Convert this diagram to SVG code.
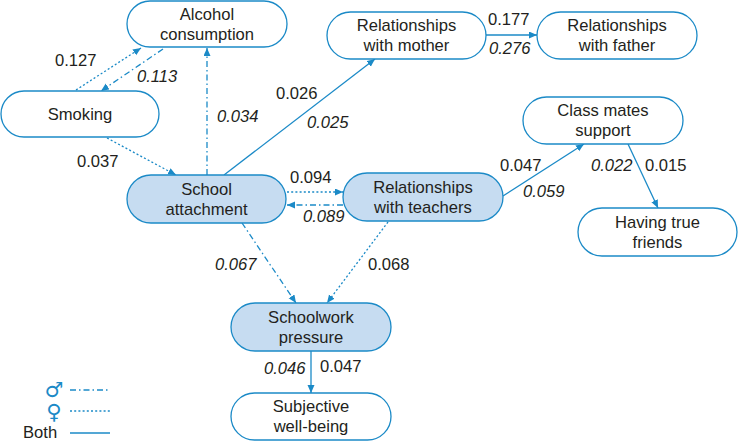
<svg xmlns="http://www.w3.org/2000/svg" width="738" height="442" viewBox="0 0 738 442">
<defs>
<marker id="ah" markerUnits="userSpaceOnUse" markerWidth="9" markerHeight="8" refX="8" refY="3.5" orient="auto">
<path d="M0,0 L8,3.5 L0,7 z" fill="#1b8ac7"/>
</marker>
<style>
.n{fill:#fff;stroke:#1b8ac7;stroke-width:1.3}
.s{fill:#c6dcf1;stroke:#1b8ac7;stroke-width:1.3}
text{font-family:"Liberation Sans",Arial,sans-serif;font-size:16.6px;fill:#231f20}
.c{text-anchor:middle}
.i{font-style:italic}
.e{fill:none;stroke:#1b8ac7;stroke-width:1.3;marker-end:url(#ah)}
.m{stroke-dasharray:6 3 1.5 3}
.f{stroke-dasharray:2 2.2}
.l{fill:none;stroke:#1b8ac7;stroke-width:1.3}
.g{font-family:"DejaVu Sans",sans-serif;font-size:21px;fill:#1b8ac7;text-anchor:middle}
</style>
</defs>
<g id="connectors">
<line class="e f" x1="76" y1="90" x2="141" y2="48"/>
<line class="e m" x1="163" y1="49" x2="101" y2="91"/>
<line class="e m" x1="207" y1="175" x2="207" y2="48"/>
<line class="e f" x1="107" y1="138" x2="176" y2="175"/>
<line class="e" x1="224" y1="175" x2="375" y2="59"/>
<line class="e" x1="486" y1="35" x2="537" y2="35"/>
<line class="e f" x1="287" y1="192" x2="343" y2="192"/>
<line class="e m" x1="343" y1="205" x2="287" y2="205"/>
<line class="e" x1="503" y1="196" x2="584" y2="144"/>
<line class="e" x1="628" y1="144" x2="658" y2="208"/>
<line class="e m" x1="242" y1="223" x2="296" y2="303"/>
<line class="e f" x1="388" y1="222" x2="327" y2="303"/>
<line class="e" x1="311" y1="351" x2="311" y2="393"/>
</g>
<g id="edge-labels">
<text x="55" y="66">0.127</text>
<text class="i" x="137" y="82">0.113</text>
<text class="i" x="217" y="122">0.034</text>
<text x="276" y="99">0.026</text>
<text class="i" x="307" y="128">0.025</text>
<text x="77" y="167">0.037</text>
<text x="290" y="183">0.094</text>
<text class="i" x="303" y="222">0.089</text>
<text x="488" y="25">0.177</text>
<text class="i" x="489" y="54">0.276</text>
<text x="500" y="171">0.047</text>
<text class="i" x="523" y="197">0.059</text>
<text class="i" x="591" y="171">0.022</text>
<text x="645" y="171">0.015</text>
<text class="i" x="215" y="270">0.067</text>
<text x="368" y="270">0.068</text>
<text class="i" x="264" y="374">0.046</text>
<text x="320" y="372">0.047</text>
</g>
<g id="alcohol">
<rect class="n" x="127" y="1" width="160" height="46" rx="23"/>
<text class="c" x="207" y="20">Alcohol</text>
<text class="c" x="207" y="40">consumption</text>
</g>
<g id="smoking">
<rect class="n" x="1" y="91" width="158" height="46" rx="23"/>
<text class="c" x="80" y="120">Smoking</text>
</g>
<g id="school-attachment">
<rect class="s" x="127" y="175" width="159" height="48" rx="24"/>
<text class="c" x="206.5" y="195">School</text>
<text class="c" x="206.5" y="215">attachment</text>
</g>
<g id="teachers">
<rect class="s" x="343" y="173" width="160" height="48" rx="24"/>
<text class="c" x="423" y="193">Relationships</text>
<text class="c" x="423" y="213">with teachers</text>
</g>
<g id="mother">
<rect class="n" x="327" y="12" width="159" height="47" rx="23.5"/>
<text class="c" x="406.5" y="31">Relationships</text>
<text class="c" x="406.5" y="51">with mother</text>
</g>
<g id="father">
<rect class="n" x="537" y="12" width="160" height="47" rx="23.5"/>
<text class="c" x="617" y="31">Relationships</text>
<text class="c" x="617" y="51">with father</text>
</g>
<g id="classmates">
<rect class="n" x="523" y="97" width="160" height="47" rx="23.5"/>
<text class="c" x="603" y="116">Class mates</text>
<text class="c" x="603" y="136">support</text>
</g>
<g id="friends">
<rect class="n" x="578" y="208" width="159" height="48" rx="24"/>
<text class="c" x="657.5" y="228">Having true</text>
<text class="c" x="657.5" y="248">friends</text>
</g>
<g id="schoolwork">
<rect class="s" x="231" y="303" width="160" height="48" rx="24"/>
<text class="c" x="311" y="323">Schoolwork</text>
<text class="c" x="311" y="343">pressure</text>
</g>
<g id="wellbeing">
<rect class="n" x="231" y="393" width="160" height="47" rx="23.5"/>
<text class="c" x="311" y="412">Subjective</text>
<text class="c" x="311" y="432">well-being</text>
</g>
<g id="legend">
<text x="54" y="397" class="g">♂</text>
<text x="54" y="419" class="g">♀</text>
<text x="23" y="438">Both</text>
<line class="l m" x1="70" y1="390" x2="110" y2="390"/>
<line class="l f" x1="70" y1="411" x2="110" y2="411"/>
<line class="l" x1="70" y1="433" x2="110" y2="433"/>
</g>
</svg>
